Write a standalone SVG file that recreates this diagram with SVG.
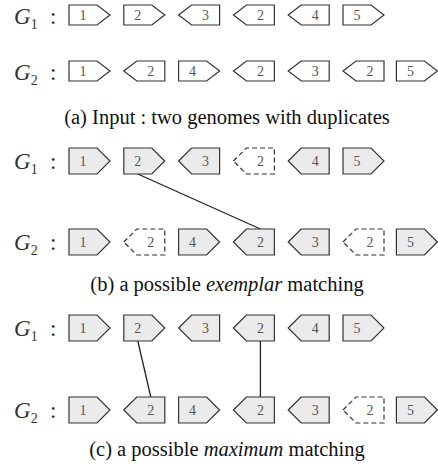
<svg xmlns="http://www.w3.org/2000/svg" width="438" height="470" viewBox="0 0 438 470" font-family="'Liberation Serif','Times New Roman','DejaVu Serif',serif">
<style>
text{font-family:"Liberation Serif","Times New Roman","DejaVu Serif",serif}
.b{stroke:#333;stroke-width:1.2;fill:#fff}
.g{fill:#ebebeb}
.d{stroke-dasharray:5 3}
.n{font-size:14px;fill:#555;text-anchor:middle}
.lab{font-size:23px;fill:#333}
.sub{font-size:14px;font-style:normal}
.cap{font-size:20.5px;fill:#111;text-anchor:middle}
.con{stroke:#222;stroke-width:1.3;fill:none}
</style>
<defs>
<path id="ra" d="M0,0H28L41,10L28,20H0Z"/>
<path id="la" d="M0,10L13,0H41V20H13Z"/>
<path id="rb" d="M0,0H28L41,13L28,26H0Z"/>
<path id="lb" d="M0,13L13,0H41V26H13Z"/>
</defs>

<!-- panel (a) -->
<g id="a-labels">
<text class="lab" x="14" y="24"><tspan font-style="italic">G</tspan><tspan class="sub" dy="5">1</tspan><tspan x="50" dy="-5">:</tspan></text>
<text class="lab" x="14" y="80"><tspan font-style="italic">G</tspan><tspan class="sub" dy="5">2</tspan><tspan x="50" dy="-5">:</tspan></text>
</g>
<g id="a1-1" transform="translate(69,5)"><use href="#ra" class="b"/><text class="n" x="14" y="15">1</text></g>
<g id="a1-2" transform="translate(123.8,5)"><use href="#ra" class="b"/><text class="n" x="14" y="15">2</text></g>
<g id="a1-3" transform="translate(178.6,5)"><use href="#la" class="b"/><text class="n" x="27" y="15">3</text></g>
<g id="a1-4" transform="translate(233.4,5)"><use href="#la" class="b"/><text class="n" x="27" y="15">2</text></g>
<g id="a1-5" transform="translate(288.2,5)"><use href="#la" class="b"/><text class="n" x="27" y="15">4</text></g>
<g id="a1-6" transform="translate(343,5)"><use href="#ra" class="b"/><text class="n" x="14" y="15">5</text></g>

<g id="a2-1" transform="translate(69,61)"><use href="#ra" class="b"/><text class="n" x="14" y="15">1</text></g>
<g id="a2-2" transform="translate(123.8,61)"><use href="#la" class="b"/><text class="n" x="27" y="15">2</text></g>
<g id="a2-3" transform="translate(178.6,61)"><use href="#ra" class="b"/><text class="n" x="14" y="15">4</text></g>
<g id="a2-4" transform="translate(233.4,61)"><use href="#la" class="b"/><text class="n" x="27" y="15">2</text></g>
<g id="a2-5" transform="translate(288.2,61)"><use href="#la" class="b"/><text class="n" x="27" y="15">3</text></g>
<g id="a2-6" transform="translate(343,61)"><use href="#la" class="b"/><text class="n" x="27" y="15">2</text></g>
<g id="a2-7" transform="translate(396.4,61)"><use href="#ra" class="b"/><text class="n" x="14" y="15">5</text></g>
<text class="cap" x="227" y="124">(a) Input : two genomes with duplicates</text>

<!-- panel (b) -->
<g id="b-labels">
<text class="lab" x="14" y="169"><tspan font-style="italic">G</tspan><tspan class="sub" dy="5">1</tspan><tspan x="50" dy="-5">:</tspan></text>
<text class="lab" x="14" y="250"><tspan font-style="italic">G</tspan><tspan class="sub" dy="5">2</tspan><tspan x="50" dy="-5">:</tspan></text>
</g>
<g id="b-connectors"><line class="con" x1="137.8" y1="174" x2="260.4" y2="229"/></g>
<g id="b1-1" transform="translate(69,148)"><use href="#rb" class="b g"/><text class="n" x="14" y="18">1</text></g>
<g id="b1-2" transform="translate(123.8,148)"><use href="#rb" class="b g"/><text class="n" x="14" y="18">2</text></g>
<g id="b1-3" transform="translate(178.6,148)"><use href="#lb" class="b g"/><text class="n" x="27" y="18">3</text></g>
<g id="b1-4" transform="translate(233.4,148)"><use href="#lb" class="b d"/><text class="n" x="27" y="18">2</text></g>
<g id="b1-5" transform="translate(288.2,148)"><use href="#lb" class="b g"/><text class="n" x="27" y="18">4</text></g>
<g id="b1-6" transform="translate(343,148)"><use href="#rb" class="b g"/><text class="n" x="14" y="18">5</text></g>

<g id="b2-1" transform="translate(69,229)"><use href="#rb" class="b g"/><text class="n" x="14" y="18">1</text></g>
<g id="b2-2" transform="translate(123.8,229)"><use href="#lb" class="b d"/><text class="n" x="27" y="18">2</text></g>
<g id="b2-3" transform="translate(178.6,229)"><use href="#rb" class="b g"/><text class="n" x="14" y="18">4</text></g>
<g id="b2-4" transform="translate(233.4,229)"><use href="#lb" class="b g"/><text class="n" x="27" y="18">2</text></g>
<g id="b2-5" transform="translate(288.2,229)"><use href="#lb" class="b g"/><text class="n" x="27" y="18">3</text></g>
<g id="b2-6" transform="translate(343,229)"><use href="#lb" class="b d"/><text class="n" x="27" y="18">2</text></g>
<g id="b2-7" transform="translate(396.4,229)"><use href="#rb" class="b g"/><text class="n" x="14" y="18">5</text></g>
<text class="cap" x="227" y="291">(b) a possible <tspan font-style="italic">exemplar</tspan> matching</text>

<!-- panel (c) -->
<g id="c-labels">
<text class="lab" x="14" y="336"><tspan font-style="italic">G</tspan><tspan class="sub" dy="5">1</tspan><tspan x="50" dy="-5">:</tspan></text>
<text class="lab" x="14" y="418"><tspan font-style="italic">G</tspan><tspan class="sub" dy="5">2</tspan><tspan x="50" dy="-5">:</tspan></text>
</g>
<g id="c-connectors">
<line class="con" x1="137.8" y1="341" x2="150.8" y2="397"/>
<line class="con" x1="260.4" y1="341" x2="260.4" y2="397"/>
</g>
<g id="c1-1" transform="translate(69,315)"><use href="#rb" class="b g"/><text class="n" x="14" y="18">1</text></g>
<g id="c1-2" transform="translate(123.8,315)"><use href="#rb" class="b g"/><text class="n" x="14" y="18">2</text></g>
<g id="c1-3" transform="translate(178.6,315)"><use href="#lb" class="b g"/><text class="n" x="27" y="18">3</text></g>
<g id="c1-4" transform="translate(233.4,315)"><use href="#lb" class="b g"/><text class="n" x="27" y="18">2</text></g>
<g id="c1-5" transform="translate(288.2,315)"><use href="#lb" class="b g"/><text class="n" x="27" y="18">4</text></g>
<g id="c1-6" transform="translate(343,315)"><use href="#rb" class="b g"/><text class="n" x="14" y="18">5</text></g>

<g id="c2-1" transform="translate(69,397)"><use href="#rb" class="b g"/><text class="n" x="14" y="18">1</text></g>
<g id="c2-2" transform="translate(123.8,397)"><use href="#lb" class="b g"/><text class="n" x="27" y="18">2</text></g>
<g id="c2-3" transform="translate(178.6,397)"><use href="#rb" class="b g"/><text class="n" x="14" y="18">4</text></g>
<g id="c2-4" transform="translate(233.4,397)"><use href="#lb" class="b g"/><text class="n" x="27" y="18">2</text></g>
<g id="c2-5" transform="translate(288.2,397)"><use href="#lb" class="b g"/><text class="n" x="27" y="18">3</text></g>
<g id="c2-6" transform="translate(343,397)"><use href="#lb" class="b d"/><text class="n" x="27" y="18">2</text></g>
<g id="c2-7" transform="translate(396.4,397)"><use href="#rb" class="b g"/><text class="n" x="14" y="18">5</text></g>
<text class="cap" x="227" y="456">(c) a possible <tspan font-style="italic">maximum</tspan> matching</text>
</svg>
